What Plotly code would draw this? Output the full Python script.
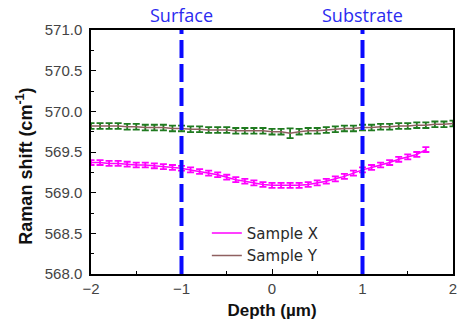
import plotly.graph_objects as go

# Depth profiles of the Raman shift (cm^-1) for two samples
depth_x = [round(-2.0 + 0.1 * i, 1) for i in range(38)]
shift_x = [569.37, 569.37, 569.36, 569.36, 569.35, 569.34, 569.34, 569.33, 569.32, 569.31,
           569.30, 569.28, 569.26, 569.24, 569.22, 569.19, 569.16, 569.14, 569.12, 569.10,
           569.09, 569.09, 569.09, 569.09, 569.10, 569.12, 569.14, 569.17, 569.20, 569.24,
           569.28, 569.31, 569.34, 569.37, 569.41, 569.44, 569.47, 569.53]
err_x = [0.03] * 38

depth_y = [round(-2.0 + 0.1 * i, 1) for i in range(41)]
shift_y = [569.82, 569.82, 569.82, 569.82, 569.81, 569.81, 569.80, 569.80, 569.80, 569.79,
           569.79, 569.78, 569.78, 569.77, 569.77, 569.77, 569.76, 569.76, 569.76, 569.76,
           569.75, 569.75, 569.73, 569.75, 569.76, 569.76, 569.77, 569.78, 569.79, 569.79,
           569.80, 569.80, 569.81, 569.81, 569.82, 569.82, 569.83, 569.83, 569.84, 569.84,
           569.85]
err_y = [0.035] * 41
err_y[22] = 0.06

# Interface markers
boundaries = [-1.0, 1.0]
boundary_names = ["Surface", "Substrate"]

fig = go.Figure()
fig.add_trace(go.Scatter(
    x=depth_x, y=shift_x, mode="lines", name="Sample X",
    line=dict(color="#ff00ff", width=1.5),
    error_y=dict(type="data", array=err_x, color="#ff00ff", thickness=1.8, width=3.5),
))
fig.add_trace(go.Scatter(
    x=depth_y, y=shift_y, mode="lines", name="Sample Y",
    line=dict(color="#8f6060", width=1.5),
    error_y=dict(type="data", array=err_y, color="#1f7a1f", thickness=1.8, width=3.5),
))

for xb, name in zip(boundaries, boundary_names):
    fig.add_shape(type="line", xref="x", yref="paper", x0=xb, x1=xb, y0=0, y1=1,
                  line=dict(color="#0a0aff", width=4, dash="18px,6px"))
    fig.add_annotation(x=xb, xref="x", y=1.0, yref="paper", yshift=1,
                       text=name, showarrow=False, yanchor="bottom",
                       font=dict(family="Open Sans, sans-serif", size=18, color="#2b2bf0"))

axis_common = dict(
    showline=True, linecolor="black", linewidth=1.5, mirror=True,
    ticks="inside", ticklen=5, tickcolor="black", tickwidth=1.2,
    showgrid=False, zeroline=False,
    tickfont=dict(family="Liberation Sans, Arial, sans-serif", size=15, color="#444444"),
)

fig.update_xaxes(range=[-2, 2], dtick=1, tick0=-2, ticklabelstandoff=0,
                 minor=dict(dtick=0.5, ticks="inside", ticklen=3, tickcolor="black"),
                 title=dict(text="<b>Depth (µm)</b>", standoff=8,
                            font=dict(family="Liberation Sans, Arial, sans-serif", size=17, color="#111111")),
                 **axis_common)
fig.update_yaxes(range=[568, 571], dtick=0.5, tick0=568, tickformat=".1f", ticklabelstandoff=4,
                 minor=dict(dtick=0.25, ticks="inside", ticklen=3, tickcolor="black"),
                 **axis_common)

# y-axis title placed slightly below the plot centre
fig.add_annotation(text="<b>Raman shift (cm<sup>-1</sup>)</b>", textangle=-90,
                   xref="paper", yref="paper", x=0, y=0.44, xshift=-66,
                   xanchor="center", yanchor="middle", showarrow=False,
                   font=dict(family="Liberation Sans, Arial, sans-serif", size=18, color="#111111"))

fig.update_layout(
    width=474, height=330,
    margin=dict(l=91, r=21, t=30, b=56),
    paper_bgcolor="white", plot_bgcolor="white",
    showlegend=True,
    legend=dict(x=0.32, y=0.235, xanchor="left", yanchor="top",
                bgcolor="rgba(0,0,0,0)", borderwidth=0,
                font=dict(family="DejaVu Sans, sans-serif", size=15, color="#2a2a2a"),
                itemwidth=30, tracegroupgap=0),
)

fig.write_html("out.html")
